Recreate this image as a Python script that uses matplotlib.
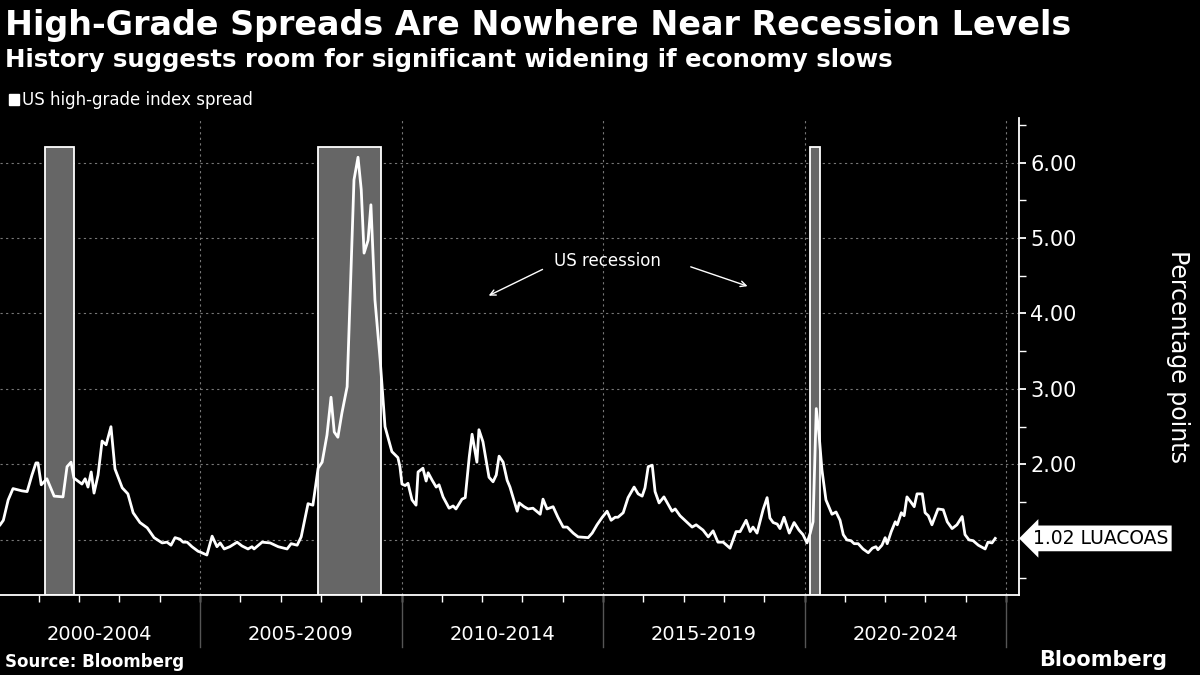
import matplotlib
matplotlib.use("Agg")
import matplotlib.pyplot as plt
from matplotlib.ticker import FixedLocator, NullFormatter
import matplotlib.transforms as mtransforms

# ---- data (decimal year, spread in percentage points) ----
dates = [2000.04, 2000.12, 2000.24, 2000.36, 2000.58, 2000.71, 2000.83, 2000.93, 2000.98,
         2001.06, 2001.20, 2001.38, 2001.60, 2001.70, 2001.80, 2001.87, 2002.07, 2002.15,
         2002.22, 2002.30, 2002.37, 2002.47, 2002.57, 2002.67, 2002.79, 2002.89, 2003.07,
         2003.21, 2003.34, 2003.51, 2003.69, 2003.86, 2004.06, 2004.18, 2004.28, 2004.38,
         2004.50, 2004.58, 2004.68, 2004.80, 2004.95, 2005.00, 2005.17, 2005.30, 2005.42,
         2005.50, 2005.60, 2005.74, 2005.92, 2006.04, 2006.19, 2006.29, 2006.34, 2006.54,
         2006.74, 2006.94, 2007.16, 2007.26, 2007.41, 2007.51, 2007.68, 2007.80, 2007.93,
         2008.03, 2008.15, 2008.25, 2008.33, 2008.42, 2008.52, 2008.65, 2008.77, 2008.82,
         2008.92, 2009.00, 2009.07, 2009.17, 2009.24, 2009.34, 2009.47, 2009.59, 2009.76,
         2009.91, 2009.96, 2010.01, 2010.09, 2010.16, 2010.26, 2010.36, 2010.41, 2010.53,
         2010.61, 2010.66, 2010.76, 2010.86, 2010.93, 2011.03, 2011.18, 2011.28, 2011.35,
         2011.50, 2011.58, 2011.68, 2011.75, 2011.87, 2011.92, 2012.02, 2012.17, 2012.27,
         2012.35, 2012.42, 2012.52, 2012.62, 2012.69, 2012.87, 2012.92, 2013.04, 2013.14,
         2013.26, 2013.44, 2013.51, 2013.61, 2013.76, 2013.88, 2014.01, 2014.11, 2014.26,
         2014.38, 2014.63, 2014.73, 2014.85, 2014.98, 2015.10, 2015.20, 2015.30, 2015.37,
         2015.50, 2015.62, 2015.77, 2015.87, 2015.97, 2016.04, 2016.12, 2016.22, 2016.29,
         2016.39, 2016.51, 2016.71, 2016.79, 2016.91, 2017.21, 2017.31, 2017.48, 2017.61,
         2017.73, 2017.85, 2017.98, 2018.15, 2018.30, 2018.40, 2018.55, 2018.65, 2018.72,
         2018.82, 2018.97, 2019.07, 2019.14, 2019.22, 2019.32, 2019.39, 2019.49, 2019.62,
         2019.74, 2019.86, 2019.96, 2020.06, 2020.14, 2020.21, 2020.29, 2020.36, 2020.43,
         2020.53, 2020.68, 2020.78, 2020.88, 2020.96, 2021.05, 2021.15, 2021.23, 2021.33,
         2021.45, 2021.58, 2021.68, 2021.77, 2021.82, 2021.92, 2022.00, 2022.05, 2022.15,
         2022.25, 2022.30, 2022.40, 2022.47, 2022.54, 2022.64, 2022.72, 2022.79, 2022.92,
         2022.99, 2023.07, 2023.16, 2023.24, 2023.31, 2023.44, 2023.54, 2023.66, 2023.78,
         2023.91, 2023.98, 2024.08, 2024.18, 2024.31, 2024.48, 2024.55, 2024.65, 2024.73]
spread = [1.20, 1.26, 1.53, 1.68, 1.65, 1.64, 1.86, 2.02, 2.02,
          1.73, 1.81, 1.58, 1.57, 1.97, 2.03, 1.82, 1.74, 1.81,
          1.70, 1.90, 1.62, 1.86, 2.31, 2.26, 2.50, 1.94, 1.69,
          1.61, 1.36, 1.23, 1.16, 1.03, 0.96, 0.97, 0.93, 1.03,
          1.01, 0.97, 0.97, 0.91, 0.85, 0.84, 0.80, 1.05, 0.91,
          0.96, 0.88, 0.91, 0.97, 0.92, 0.88, 0.91, 0.88, 0.97,
          0.96, 0.91, 0.88, 0.95, 0.93, 1.04, 1.48, 1.46, 1.95,
          2.03, 2.39, 2.89, 2.43, 2.36, 2.68, 3.03, 4.97, 5.77,
          6.07, 5.64, 4.80, 4.97, 5.44, 4.18, 3.38, 2.50, 2.17,
          2.09, 1.97, 1.74, 1.72, 1.75, 1.53, 1.46, 1.90, 1.95,
          1.78, 1.89, 1.79, 1.70, 1.73, 1.57, 1.42, 1.45, 1.41,
          1.54, 1.56, 2.10, 2.40, 2.03, 2.46, 2.30, 1.83, 1.77,
          1.86, 2.11, 2.03, 1.79, 1.70, 1.38, 1.49, 1.44, 1.41,
          1.42, 1.34, 1.54, 1.41, 1.44, 1.30, 1.17, 1.17, 1.09,
          1.04, 1.03, 1.09, 1.20, 1.30, 1.38, 1.26, 1.30, 1.30,
          1.36, 1.56, 1.70, 1.61, 1.58, 1.69, 1.97, 1.99, 1.64,
          1.49, 1.57, 1.38, 1.41, 1.32, 1.17, 1.20, 1.13, 1.04,
          1.12, 0.97, 0.97, 0.89, 1.11, 1.11, 1.26, 1.11, 1.17,
          1.09, 1.40, 1.56, 1.29, 1.23, 1.21, 1.15, 1.30, 1.09,
          1.23, 1.13, 1.07, 0.96, 1.09, 1.24, 2.74, 2.39, 1.93,
          1.53, 1.34, 1.37, 1.26, 1.07, 1.00, 0.99, 0.95, 0.95,
          0.88, 0.83, 0.89, 0.91, 0.87, 0.93, 1.03, 0.95, 1.11,
          1.24, 1.20, 1.36, 1.32, 1.57, 1.50, 1.44, 1.61, 1.61,
          1.36, 1.32, 1.20, 1.31, 1.41, 1.40, 1.24, 1.15, 1.20,
          1.31, 1.07, 1.00, 0.99, 0.93, 0.88, 0.97, 0.96, 1.02]

rec_start = [2001.15, 2007.92, 2020.14]
rec_end = [2001.87, 2009.49, 2020.39]
rec_top = 6.21

period_labels = ["2000-2004", "2005-2009", "2010-2014", "2015-2019", "2020-2024"]
period_bounds = [2000, 2005, 2010, 2015, 2020, 2025]
y_ticks = [2, 3, 4, 5, 6]
last_value = spread[-1]
ticker_name = "LUACOAS"

# ---- styling ----
BG = "black"
FG = "white"
FONT = "DejaVu Sans"
plt.rcParams["font.family"] = FONT

fig = plt.figure(figsize=(12, 6.75), dpi=100, facecolor=BG)
ax = fig.add_axes([0, 80 / 675, 1019 / 1200, 477 / 675])
ax.set_facecolor(BG)

xmin, xmax = 2000.037, 2025.32
ymin, ymax = 0.27, 6.59
ax.set_xlim(xmin, xmax)
ax.set_ylim(ymin, ymax)

# recession bars
for s, e in zip(rec_start, rec_end):
    ax.bar(s, rec_top - ymin, width=e - s, bottom=ymin, align="edge",
           color="#666666", edgecolor=FG, linewidth=1.3, zorder=1)

# grid
for v in [1, 2, 3, 4, 5, 6]:
    ax.axhline(v, color="#777777", lw=0.8, ls=(0, (2, 3)), zorder=0.5)
for b in period_bounds[1:]:
    ax.axvline(b, color="#777777", lw=0.8, ls=(0, (2, 3)), zorder=0.5)

# line
ax.plot(dates, spread, color=FG, lw=2.0, zorder=3, solid_joinstyle="round")

# spines
for sp in ["top", "left"]:
    ax.spines[sp].set_visible(False)
ax.spines["right"].set_color(FG)
ax.spines["bottom"].set_color(FG)
ax.spines["right"].set_linewidth(1.3)
ax.spines["bottom"].set_linewidth(1.3)

# y axis on right
ax.yaxis.tick_right()
ax.yaxis.set_major_locator(FixedLocator(y_ticks))
ax.set_yticklabels([f"{v:.2f}" for v in y_ticks])
ax.yaxis.set_minor_locator(FixedLocator([0.5, 1.5, 2.5, 3.5, 4.5, 5.5, 6.5]))
ax.tick_params(axis="y", which="major", colors=FG, labelsize=15, length=5, width=1.3,
               pad=3, direction="out")
ax.tick_params(axis="y", which="minor", colors=FG, length=5, width=1.0, direction="out")
ax.yaxis.set_label_position("right")
ax.set_ylabel("Percentage points", color=FG, fontsize=17, rotation=270,
              labelpad=82)
ax.yaxis.label.set_position((1, 1 - (357 - 118) / 477))

# x axis: yearly minor ticks, period labels
ax.xaxis.set_major_locator(FixedLocator([y for y in range(2001, 2026)]))
ax.xaxis.set_major_formatter(NullFormatter())
ax.tick_params(axis="x", which="major", colors=FG, length=5, width=1.0)
trans = mtransforms.blended_transform_factory(ax.transData, ax.transAxes)
for lab, a, b in zip(period_labels, period_bounds[:-1], period_bounds[1:]):
    ax.text((a + b) / 2, -40 / 477, lab, transform=trans, ha="center", va="center",
            color=FG, fontsize=14)
for b in period_bounds[1:]:
    ax.plot([b, b], [0, -52 / 477], transform=trans, color="#555555", lw=1.0,
            clip_on=False)

# annotation
ax.text(2015.12, 4.70, "US recession", color=FG, fontsize=12, ha="center", va="center")
ax.annotate("", xy=(2012.10, 4.22), xytext=(2013.56, 4.60),
            arrowprops=dict(arrowstyle="->", color=FG, lw=1.0))
ax.annotate("", xy=(2018.65, 4.35), xytext=(2017.11, 4.63),
            arrowprops=dict(arrowstyle="->", color=FG, lw=1.0))

# last value label
ax.annotate(f"{last_value:.2f} {ticker_name}", xy=(1.0, last_value),
            xycoords=("axes fraction", "data"), xytext=(10, 0),
            textcoords="offset points", va="center", ha="left", color="black",
            fontsize=13.5, annotation_clip=False,
            bbox=dict(boxstyle="larrow,pad=0.18", fc=FG, ec="none"))

# titles
fig.text(5 / 1200, 1 - 25 / 675, "High-Grade Spreads Are Nowhere Near Recession Levels",
         color=FG, fontsize=24, weight="bold", va="center", ha="left")
fig.text(5 / 1200, 1 - 60 / 675, "History suggests room for significant widening if economy slows",
         color=FG, fontsize=17.6, weight="bold", va="center", ha="left")
fig.text(22 / 1200, 1 - 100 / 675, "US high-grade index spread", color=FG, fontsize=12,
         va="center", ha="left")
fig.patches.append(plt.Rectangle((9 / 1200, 1 - 105 / 675), 10 / 1200, 11 / 675,
                                 transform=fig.transFigure, color=FG))
fig.text(5 / 1200, 1 - 662 / 675, "Source: Bloomberg", color=FG, fontsize=12,
         weight="bold", va="center", ha="left")
fig.text(1167 / 1200, 1 - 660 / 675, "Bloomberg", color=FG, fontsize=15,
         weight="bold", va="center", ha="right")

fig.savefig("out.png", dpi=100, facecolor=BG)
